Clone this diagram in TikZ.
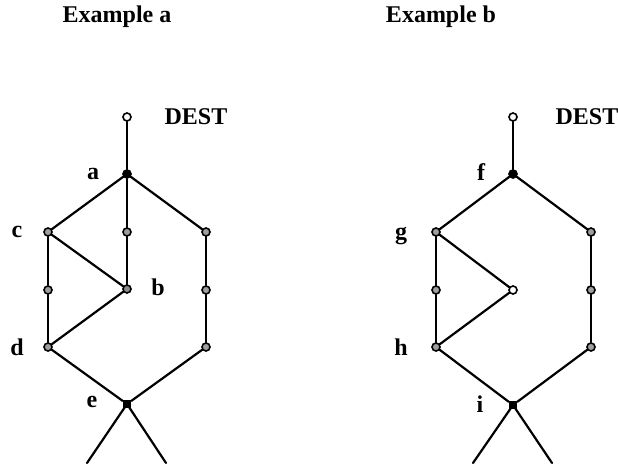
\documentclass[tikz,border=0pt]{standalone}
\usepackage{fontspec}
\setmainfont{Liberation Serif}
\begin{document}
\begin{tikzpicture}[x=1pt,y=-1pt,
  vtx/.style={circle,draw=black,line width=1.6pt,fill=gray!75,minimum size=8pt,inner sep=0pt},
  hol/.style={vtx,fill=white},
  sol/.style={vtx,fill=black},
  lbl/.style={font=\fontsize{24}{24}\selectfont\bfseries,inner sep=0pt},
  ttl/.style={font=\fontsize{24}{24}\selectfont\bfseries,inner sep=0pt},
  edge/.style={line width=2.2pt,line cap=round}]
\useasboundingbox (0,0) rectangle (618,463);
% titles
\node[ttl] (ta) at (117,17) {Example a};
\node[ttl] (tb) at (441,17) {Example b};
% ---------- Example a ----------
\node[hol] (ta0) at (127,117) {};
\node[sol] (na) at (127,174) {};
\node[vtx] (nc) at (48,232) {};
\node[vtx] (am) at (127,232) {};
\node[vtx] (ar1) at (206,232) {};
\node[vtx] (al) at (48,290) {};
\node[vtx,fill=gray!90] (nb) at (127,289) {};
\node[vtx] (ar2) at (206,290) {};
\node[vtx] (nd) at (48,347) {};
\node[vtx] (ar3) at (206,347) {};
\node[sol,rectangle,minimum size=7pt] (ne) at (127,404) {};
\coordinate (ebl) at (87,463);
\coordinate (ebr) at (166,463);
\draw[edge] (ta0) -- (na);
\draw[edge] (na) -- (nc);
\draw[edge] (na) -- (am);
\draw[edge] (na) -- (ar1);
\draw[edge] (am) -- (nb);
\draw[edge] (nc) -- (nb);
\draw[edge] (nb) -- (nd);
\draw[edge] (nc) -- (al);
\draw[edge] (al) -- (nd);
\draw[edge] (ar1) -- (ar2);
\draw[edge] (ar2) -- (ar3);
\draw[edge] (nd) -- (ne);
\draw[edge] (ar3) -- (ne);
\draw[edge] (ne.center) -- (ebl);
\draw[edge] (ne.center) -- (ebr);
\node[lbl] (ldesta) at (196,117) {DEST};
\node[lbl] (la) at (93,174) {a};
\node[lbl] (lc) at (17,232) {c};
\node[lbl] (lb) at (158,287) {b};
\node[lbl] (ld) at (17,347) {d};
\node[lbl] (le) at (92,402) {e};
% ---------- Example b ----------
\node[hol] (tb0) at (513,117) {};
\node[sol] (nf) at (513,174) {};
\node[vtx] (ng) at (436,232) {};
\node[vtx] (br1) at (591,232) {};
\node[vtx] (bl) at (436,290) {};
\node[hol] (bin) at (513,290) {};
\node[vtx] (br2) at (591,290) {};
\node[vtx] (nh) at (436,347) {};
\node[vtx] (br3) at (591,347) {};
\node[sol,rectangle,minimum size=7pt] (ni) at (513,405) {};
\coordinate (ibl) at (473,463);
\coordinate (ibr) at (552,463);
\draw[edge] (tb0) -- (nf);
\draw[edge] (nf) -- (ng);
\draw[edge] (nf) -- (br1);
\draw[edge] (ng) -- (bin);
\draw[edge] (bin) -- (nh);
\draw[edge] (ng) -- (bl);
\draw[edge] (bl) -- (nh);
\draw[edge] (br1) -- (br2);
\draw[edge] (br2) -- (br3);
\draw[edge] (nh) -- (ni);
\draw[edge] (br3) -- (ni);
\draw[edge] (ni.center) -- (ibl);
\draw[edge] (ni.center) -- (ibr);
\node[lbl] (ldestb) at (587,117) {DEST};
\node[lbl] (lf) at (481,172) {f};
\node[lbl] (lg) at (401,236) {g};
\node[lbl] (lh) at (401,347) {h};
\node[lbl] (li) at (480,404) {i};
\end{tikzpicture}
\end{document}
